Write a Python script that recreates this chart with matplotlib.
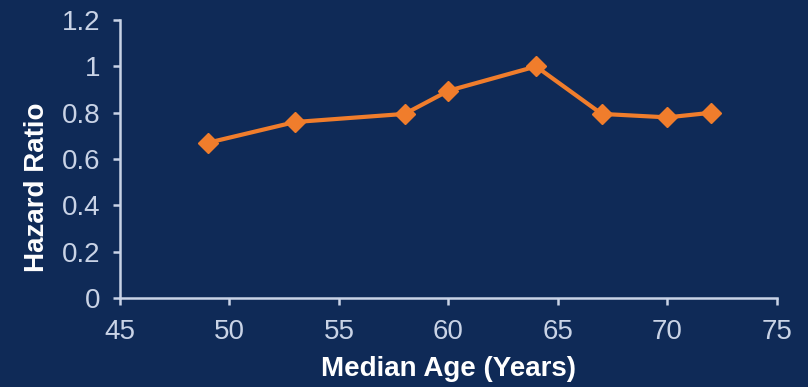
import matplotlib.pyplot as plt

# median age of each trial cohort and its hazard ratio
median_age = [49, 53, 58, 60, 64, 67, 70, 72]
hazard_ratio = [0.67, 0.76, 0.795, 0.895, 1.0, 0.795, 0.78, 0.80]

x_ticks = [45, 50, 55, 60, 65, 70, 75]
y_ticks = [0, 0.2, 0.4, 0.6, 0.8, 1, 1.2]
y_tick_labels = ["0", "0.2", "0.4", "0.6", "0.8", "1", "1.2"]

bg = "#0f2a57"
light = "#c9d3e6"
orange = "#f07d2c"

fig = plt.figure(figsize=(8.08, 3.87), dpi=100, facecolor=bg)
ax = fig.add_axes([0.1485, 0.23, 0.813, 0.718], facecolor=bg)

ax.plot(median_age, hazard_ratio, color=orange, linewidth=3,
        marker="D", markersize=10, markerfacecolor=orange, markeredgecolor=orange)

ax.set_xlim(45, 75)
ax.set_ylim(0, 1.2)
ax.set_xticks(x_ticks)
ax.set_yticks(y_ticks)
ax.set_yticklabels(y_tick_labels)

for side in ("top", "right"):
    ax.spines[side].set_visible(False)
for side in ("left", "bottom"):
    ax.spines[side].set_color(light)
    ax.spines[side].set_linewidth(1.8)

ax.tick_params(colors=light, labelsize=20, width=1.8, length=5, direction="out")
ax.tick_params(axis="x", pad=10)
ax.tick_params(axis="y", pad=9)
for lbl in ax.get_xticklabels() + ax.get_yticklabels():
    lbl.set_family(["Liberation Sans", "DejaVu Sans"])

label_font = dict(family=["Liberation Sans Narrow", "Liberation Sans", "DejaVu Sans"],
                  weight="bold", size=20, color="white")
ax.set_xlabel("Median Age (Years)", **label_font)
ax.set_ylabel("Hazard Ratio", **label_font)
ax.xaxis.set_label_coords(0.5, -0.21)
ax.yaxis.set_label_coords(-0.107, 0.40)

fig.savefig("out.png", dpi=100, facecolor=bg)
